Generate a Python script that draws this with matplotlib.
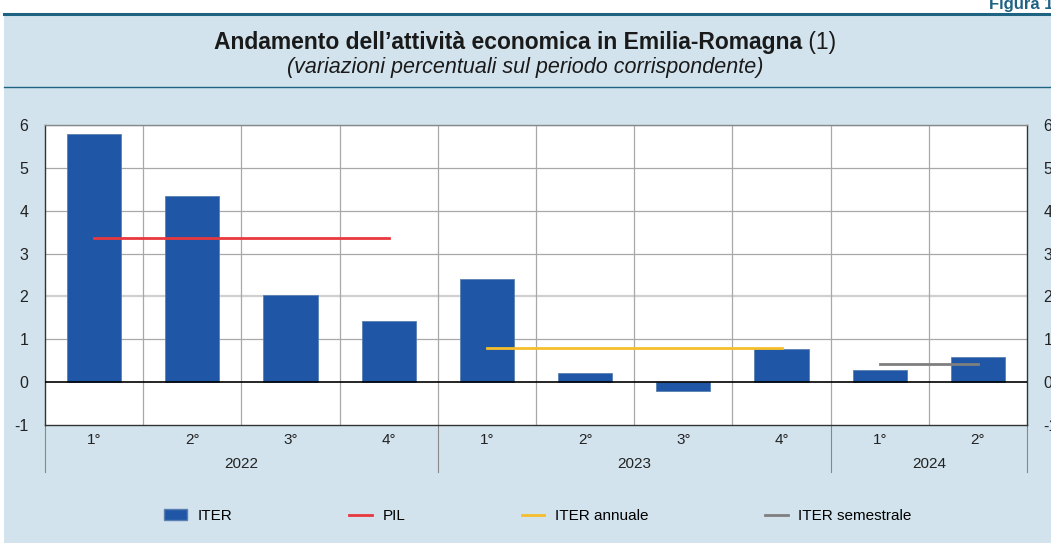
import matplotlib.pyplot as plt
from matplotlib.patches import Rectangle, Patch
from matplotlib.lines import Line2D

plt.rcParams['font.family'] = ['Liberation Sans', 'DejaVu Sans']

# dati
trimestri = ['1°', '2°', '3°', '4°', '1°', '2°', '3°', '4°', '1°', '2°']
anni = ['2022', '2023', '2024']
anni_n = [4, 4, 2]
iter_val = [5.80, 4.34, 2.03, 1.42, 2.40, 0.21, -0.21, 0.77, 0.28, 0.58]
pil_val = [3.36, 3.36, 3.36, 3.36]
iter_annuale = [0.79, 0.79, 0.79, 0.79]
iter_semestrale = [0.42, 0.42]

blu = '#1f56a5'
sfondo = '#d2e3ed'
teal = '#1e6382'

fig = plt.figure(figsize=(10.51, 5.43), dpi=100, facecolor='white')
W, H = 1051, 543

def fy(y):
    return 1 - y / H

# pannello di sfondo
fig.patches.append(Rectangle((4 / W, 0), 1, fy(15), transform=fig.transFigure,
                             facecolor=sfondo, edgecolor='none', zorder=0))
fig.add_artist(Line2D([4 / W, 1], [fy(14), fy(14)], color=teal, lw=2.2))
fig.add_artist(Line2D([4 / W, 1], [fy(87), fy(87)], color=teal, lw=1.0))
fig.text(1.002, fy(4), 'Figura 1', color=teal, fontsize=12, fontweight='bold',
         ha='right', va='center')

# titolo: parte in grassetto + "(1)"
tb = fig.text(0.5, fy(43), 'Andamento dell\u2019attività economica in Emilia-Romagna',
              fontsize=16.5, fontweight='bold', ha='left', va='center', color='#1a1a1a')
tn = fig.text(0.5, fy(43), ' (1)', fontsize=16.5, ha='left', va='center', color='#1a1a1a')
r = fig.canvas.get_renderer()
wb = tb.get_window_extent(r).width
wn = tn.get_window_extent(r).width
x0 = (W - wb - wn) / 2 / W
tb.set_x(x0)
tn.set_x(x0 + wb / W)
fig.text(0.5, fy(67), '(variazioni percentuali sul periodo corrispondente)',
         fontsize=15.5, style='italic', ha='center', va='center', color='#1a1a1a')

ax = fig.add_axes([45 / W, fy(425), (1027 - 45) / W, (425 - 125) / H])
ax.set_zorder(2)
ax.set_facecolor('white')
x = list(range(len(iter_val)))
ax.bar(x, iter_val, width=0.55, color=blu, edgecolor='#5a7fb0', lw=0.6, zorder=3)
ax.plot([0, 3], [pil_val[0], pil_val[-1]], color='#e8383d', lw=2, zorder=4)
ax.plot([4, 7], [iter_annuale[0], iter_annuale[-1]], color='#f5be2a', lw=2, zorder=4)
ax.plot([8, 9], [iter_semestrale[0], iter_semestrale[-1]], color='#7f7f7f', lw=2, zorder=4)

ax.set_xlim(-0.5, 9.5)
ax.set_ylim(-1, 6)
ax.set_yticks(range(-1, 7))
ax.set_yticklabels([str(v) for v in range(-1, 7)])
for v in range(1, 7):
    if v == 2:
        ax.axhline(v, color='#d0d0d0', lw=1.6, zorder=1)
    else:
        ax.axhline(v, color='#a8a8a8', lw=0.9, zorder=1)
for v in range(9):
    ax.axvline(v + 0.5, color='#a8a8a8', lw=0.9, zorder=1)
ax.axhline(0, color='black', lw=1.2, zorder=5)

for s in ['left', 'right', 'bottom']:
    ax.spines[s].set_color('#333333')
    ax.spines[s].set_linewidth(1.0)
ax.spines['top'].set_color('#888888')
ax.spines['top'].set_linewidth(1.0)

ax.tick_params(axis='y', length=0, labelsize=11.5, pad=12, labelright=True,
               labelcolor='#222222')
ax.tick_params(axis='y', which='major', right=False)
ax.set_xticks(x)
ax.set_xticklabels(trimestri)
ax.tick_params(axis='x', length=0, labelsize=11, pad=6, labelcolor='#222222')

# etichette degli anni e separatori
trans = ax.get_xaxis_transform()
start = -0.5
for anno, n in zip(anni, anni_n):
    ax.text(start + n / 2, -0.13, anno, transform=trans, ha='center', va='center',
            fontsize=11, color='#222222')
    start += n
sep = [-0.5, 3.5, 7.5, 9.5]
for s in sep:
    ax.add_line(Line2D([s, s], [0, -0.157], transform=trans, color='#888888',
                       lw=0.8, clip_on=False))

handles = [Patch(facecolor=blu, edgecolor='#5a7fb0'),
           Line2D([], [], color='#e8383d', lw=2),
           Line2D([], [], color='#f5be2a', lw=2),
           Line2D([], [], color='#7f7f7f', lw=2)]
labels = ['ITER', 'PIL', 'ITER annuale', 'ITER semestrale']
fig.legend(handles, labels, loc='center', bbox_to_anchor=(0.512, fy(516)), ncol=4,
           frameon=False, fontsize=11, handlelength=1.5, handleheight=0.7,
           handletextpad=0.7, columnspacing=7.6)

fig.savefig('out.png', dpi=100, facecolor='white')
